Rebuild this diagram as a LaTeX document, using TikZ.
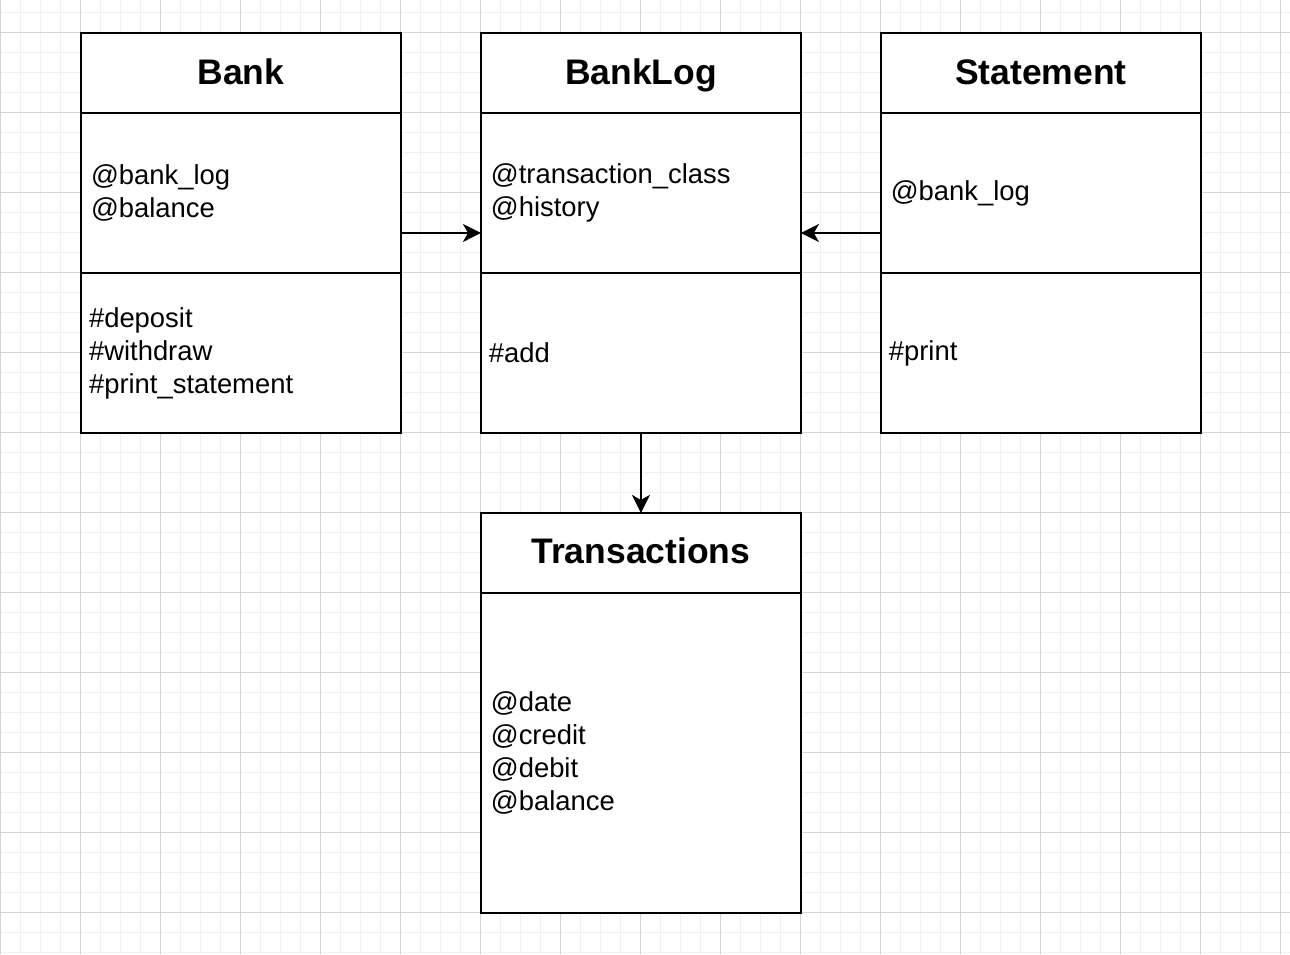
\documentclass[tikz,border=0pt]{standalone}
\usepackage{fontspec}
\setmainfont{Liberation Sans}
\usetikzlibrary{positioning,arrows.meta}

\definecolor{minorgrid}{HTML}{F1F1F1}
\definecolor{majorgrid}{HTML}{D4D4D4}

\tikzset{
  minorline/.style={minorgrid, line width=0.02cm},
  majorline/.style={majorgrid, line width=0.02cm},
  classhead/.style={draw, line width=0.04cm, fill=white, outer sep=0pt,
    minimum width=6.4cm, minimum height=1.6cm,
    text height=0.56cm, text depth=0.12cm,
    font=\fontsize{20.2}{24}\selectfont\bfseries},
  fieldbox/.style={draw, line width=0.04cm, fill=white, outer sep=0pt,
    minimum width=6.4cm, minimum height=3.2cm, inner xsep=0.2cm,
    text width=6.0cm, align=left, font=\fontsize{15.6}{18.8}\selectfont},
  methodbox/.style={fieldbox, inner xsep=0.16cm, text width=6.08cm},
  conn/.style={line width=0.04cm, -{Stealth[length=0.36cm, width=0.36cm, inset=0.1cm]}}
}

\begin{document}
\begin{tikzpicture}[x=0.02cm, y=-0.02cm]
\useasboundingbox (0,0) rectangle (1290,954);

% background grid
\foreach \x in {0,20,...,1280} \draw[minorline] (\x,0) -- (\x,954);
\foreach \y in {12,32,...,952} \draw[minorline] (0,\y) -- (1290,\y);
\foreach \x in {0,80,...,1280} \draw[majorline] (\x,0) -- (\x,954);
\foreach \y in {32,112,...,912} \draw[majorline] (0,\y) -- (1290,\y);

% Bank
\node[classhead] (bank) at (241,73) {Bank};
\node[fieldbox, below=0pt of bank] (bankattr) {@bank\_log\\@balance};
\node[methodbox, below=0pt of bankattr] (bankmeth) {\#deposit\\\#withdraw\\\#print\_statement};

% BankLog
\node[classhead, right=1.6cm of bank] (log) {BankLog};
\node[fieldbox, below=0pt of log] (logattr) {@transaction\_class\\@history};
\node[methodbox, below=0pt of logattr] (logmeth) {\#add};

% Statement
\node[classhead, right=1.6cm of log] (stmt) {Statement};
\node[fieldbox, below=0pt of stmt] (stmtattr) {@bank\_log};
\node[methodbox, below=0pt of stmtattr] (stmtmeth) {\#print};

% Transactions
\node[classhead, below=1.6cm of logmeth] (trans) {Transactions};
\node[fieldbox, below=0pt of trans, minimum height=6.4cm] (transattr) {@date\\@credit\\@debit\\@balance};

\draw[conn] ([yshift=0.8cm]bankattr.south east) -- ([yshift=0.8cm]logattr.south west);
\draw[conn] ([yshift=0.8cm]stmtattr.south west) -- ([yshift=0.8cm]logattr.south east);
\draw[conn] (logmeth.south) -- (trans.north);
\end{tikzpicture}
\end{document}
